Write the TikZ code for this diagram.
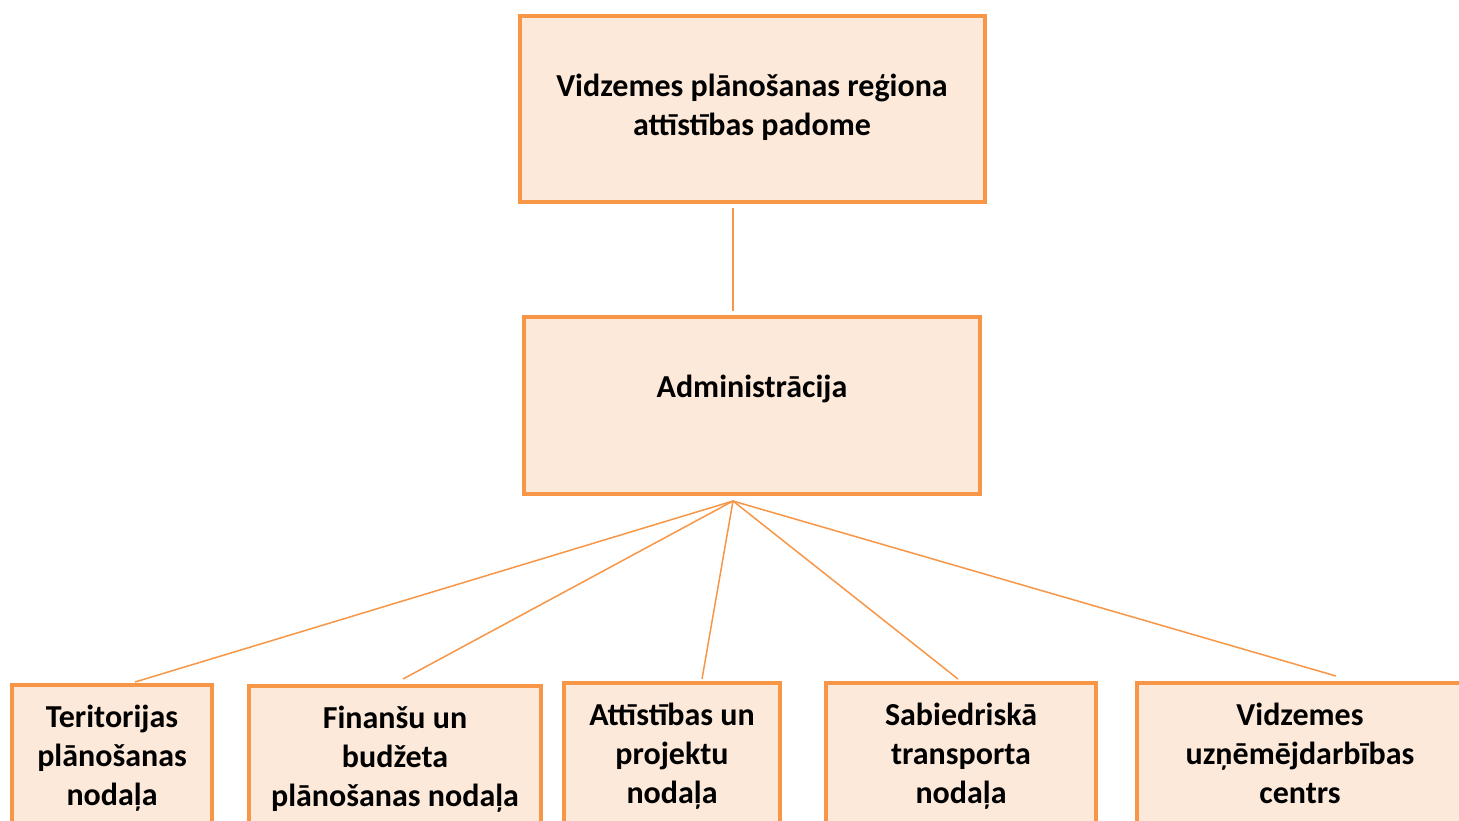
\documentclass[tikz,border=0pt]{standalone}
\usepackage{fontspec}
\setmainfont{Carlito}
\definecolor{boxline}{HTML}{F79646}
\definecolor{boxfill}{HTML}{FDE9D9}
\begin{document}
\begin{tikzpicture}[x=1pt,y=-1pt,
  box/.style={draw=boxline,fill=boxfill,line width=4pt,rectangle,inner sep=0pt,outer sep=0pt,anchor=north west},
  label/.style={font=\fontsize{32}{39}\selectfont\bfseries,align=center,inner sep=0pt,anchor=base,text=black},
  link/.style={draw=boxline,line width=1.5pt}]
\useasboundingbox (0,0) rectangle (1459,820);
\clip (0,0) rectangle (1459,820);
% boxes
\node[box,minimum width=465pt,minimum height=186pt] (top) at (520,16) {};
\node[box,minimum width=456pt,minimum height=177pt] (admin) at (524,317) {};
\node[box,minimum width=200pt,minimum height=200pt] (b1) at (12,685) {};
\node[box,minimum width=292pt,minimum height=200pt] (b2) at (249,686) {};
\node[box,minimum width=216pt,minimum height=200pt] (b3) at (564,683) {};
\node[box,minimum width=270pt,minimum height=200pt] (b4) at (826,683) {};
\node[box,minimum width=326pt,minimum height=200pt] (b5) at (1137,683) {};
% texts (anchor base = baseline of last line)
\node[label] (ttop) at (752,135) {Vidzemes plānošanas reģiona\\attīstības padome};
\node[label] (tadmin) at (752,397) {Administrācija};
\node[label] (t1) at (112,805) {Teritorijas\\plānošanas\\nodaļa};
\node[label] (t2) at (395,806) {Finanšu un\\budžeta\\plānošanas nodaļa};
\node[label] (t3) at (672,803) {Attīstības un\\projektu\\nodaļa};
\node[label] (t4) at (961,803) {Sabiedriskā\\transporta\\nodaļa};
\node[label] (t5) at (1300,803) {Vidzemes\\uzņēmējdarbības\\centrs};
% connectors
\coordinate (c1) at (733,208);
\coordinate (c2) at (733,311);
\draw[link] (c1) -- (c2);
\coordinate (fan) at (733,501);
\coordinate (e1) at (135,682);
\coordinate (e2) at (403,679);
\coordinate (e3) at (702,679);
\coordinate (e4) at (958,679);
\coordinate (e5) at (1336,676);
\foreach \e in {e1,e2,e3,e4,e5} \draw[link] (fan) -- (\e);
\end{tikzpicture}
\end{document}
